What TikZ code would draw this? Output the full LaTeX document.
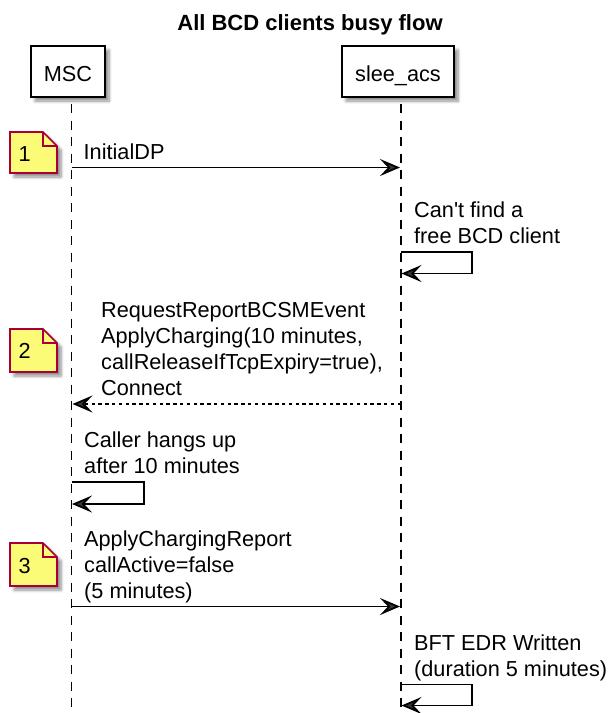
\documentclass[tikz,border=0pt]{standalone}
\usepackage{fontspec}
\setmainfont{Liberation Sans}
\usetikzlibrary{arrows.meta,shadows.blur}
\definecolor{notefill}{HTML}{FBFB77}
\definecolor{noteline}{HTML}{A80036}
\tikzset{
  shd/.style={blur shadow={shadow xshift=4pt,shadow yshift=-4pt,shadow blur radius=3pt,shadow blur steps=6,shadow opacity=45}},
  lbl/.style={anchor=base west,inner sep=0pt,font=\fontsize{21.7}{26}\selectfont},
  msg/.style={line width=1.8pt,-{Stealth[length=20pt,width=17pt,inset=8pt]}},
  retmsg/.style={msg,dash pattern=on 3.4pt off 3.4pt},
  lifeline/.style={line width=1.5pt,dash pattern=on 9pt off 7.5pt},
  actor/.style={draw,line width=1.8pt,fill=white,shd,inner sep=0pt,text height=20pt,text depth=0pt,
    minimum height=51pt,font=\fontsize{21.7}{26}\selectfont},
  notebox/.style={draw=noteline,fill=notefill,line width=1.7pt,line join=miter,shd},
  notefold/.style={draw=noteline,line width=1.7pt,line join=miter},
}
\begin{document}
\begin{tikzpicture}[x=1pt,y=-1pt]
\useasboundingbox (0,0) rectangle (610,713);
% title
\node[anchor=base,inner sep=0pt,font=\fontsize{22}{26}\selectfont\bfseries] (title) at (310,30) {All BCD clients busy flow};
% lifelines
\coordinate (mscTop) at (71.5,104); \coordinate (mscBot) at (71.5,713);
\coordinate (sleeTop) at (401,104); \coordinate (sleeBot) at (401,713);
\draw[lifeline] (mscTop) -- (mscBot);
\draw[lifeline] (sleeTop) -- (sleeBot);
% participants
\node[actor,minimum width=74pt] (msc) at (68,71.5) {MSC};
\node[actor,minimum width=112pt] (slee) at (398,71.5) {slee\_acs};
% notes
\path[notebox] (10,132) -- (43,132) -- (57,146) -- (57,173) -- (10,173) -- cycle;
\path[notefold] (43,132) -- (43,146) -- (57,146);
\node[lbl] (n1) at (18.5,161) {1};
\path[notebox] (10,329) -- (43,329) -- (57,343) -- (57,372) -- (10,372) -- cycle;
\path[notefold] (43,329) -- (43,343) -- (57,343);
\node[lbl] (n2) at (18.5,358.5) {2};
\path[notebox] (10,543) -- (43,543) -- (57,557) -- (57,586) -- (10,586) -- cycle;
\path[notefold] (43,543) -- (43,557) -- (57,557);
\node[lbl] (n3) at (18.5,573.5) {3};
% message 1
\node[lbl] (t1) at (83.5,159) {InitialDP};
\coordinate (a1) at (71.5,167.5); \coordinate (b1) at (400,167.5);
\draw[msg] (a1) -- (b1);
% self message on slee_acs
\node[lbl] (t2a) at (414,217.5) {Can\textquotesingle t find a};
\node[lbl] (t2b) at (414,243.5) {free BCD client};
\coordinate (s1) at (401,252); \coordinate (s1e) at (401.5,273.5);
\draw[msg] (s1) -- ++(71,0) -- ++(0,21.5) -- (s1e);
% return message
\node[lbl] (t3a) at (101,317.5) {RequestReportBCSMEvent};
\node[lbl] (t3b) at (101,343.5) {ApplyCharging(10 minutes,};
\node[lbl] (t3c) at (101,369.5) {callReleaseIfTcpExpiry=true),};
\node[lbl] (t3d) at (101,395.5) {Connect};
\coordinate (b2) at (401,404); \coordinate (a2) at (72.5,404);
\draw[retmsg] (b2) -- (a2);
% self message on MSC
\node[lbl] (t4a) at (84,447.5) {Caller hangs up};
\node[lbl] (t4b) at (84,473.5) {after 10 minutes};
\coordinate (a3) at (71.5,482); \coordinate (a3e) at (72,504);
\draw[msg] (a3) -- ++(72.5,0) -- ++(0,22) -- (a3e);
% message 4
\node[lbl] (t5a) at (84,546) {ApplyChargingReport};
\node[lbl] (t5b) at (84,572) {callActive=false};
\node[lbl] (t5c) at (84,598) {(5 minutes)};
\coordinate (a4) at (71.5,606.5); \coordinate (b4) at (400,606.5);
\draw[msg] (a4) -- (b4);
% self message on slee_acs
\node[lbl] (t6a) at (414,650) {BFT EDR Written};
\node[lbl] (t6b) at (414,676) {(duration 5 minutes)};
\coordinate (s5) at (401,684.5); \coordinate (s5e) at (401.5,705.5);
\draw[msg] (s5) -- ++(71,0) -- ++(0,21) -- (s5e);
\end{tikzpicture}
\end{document}
